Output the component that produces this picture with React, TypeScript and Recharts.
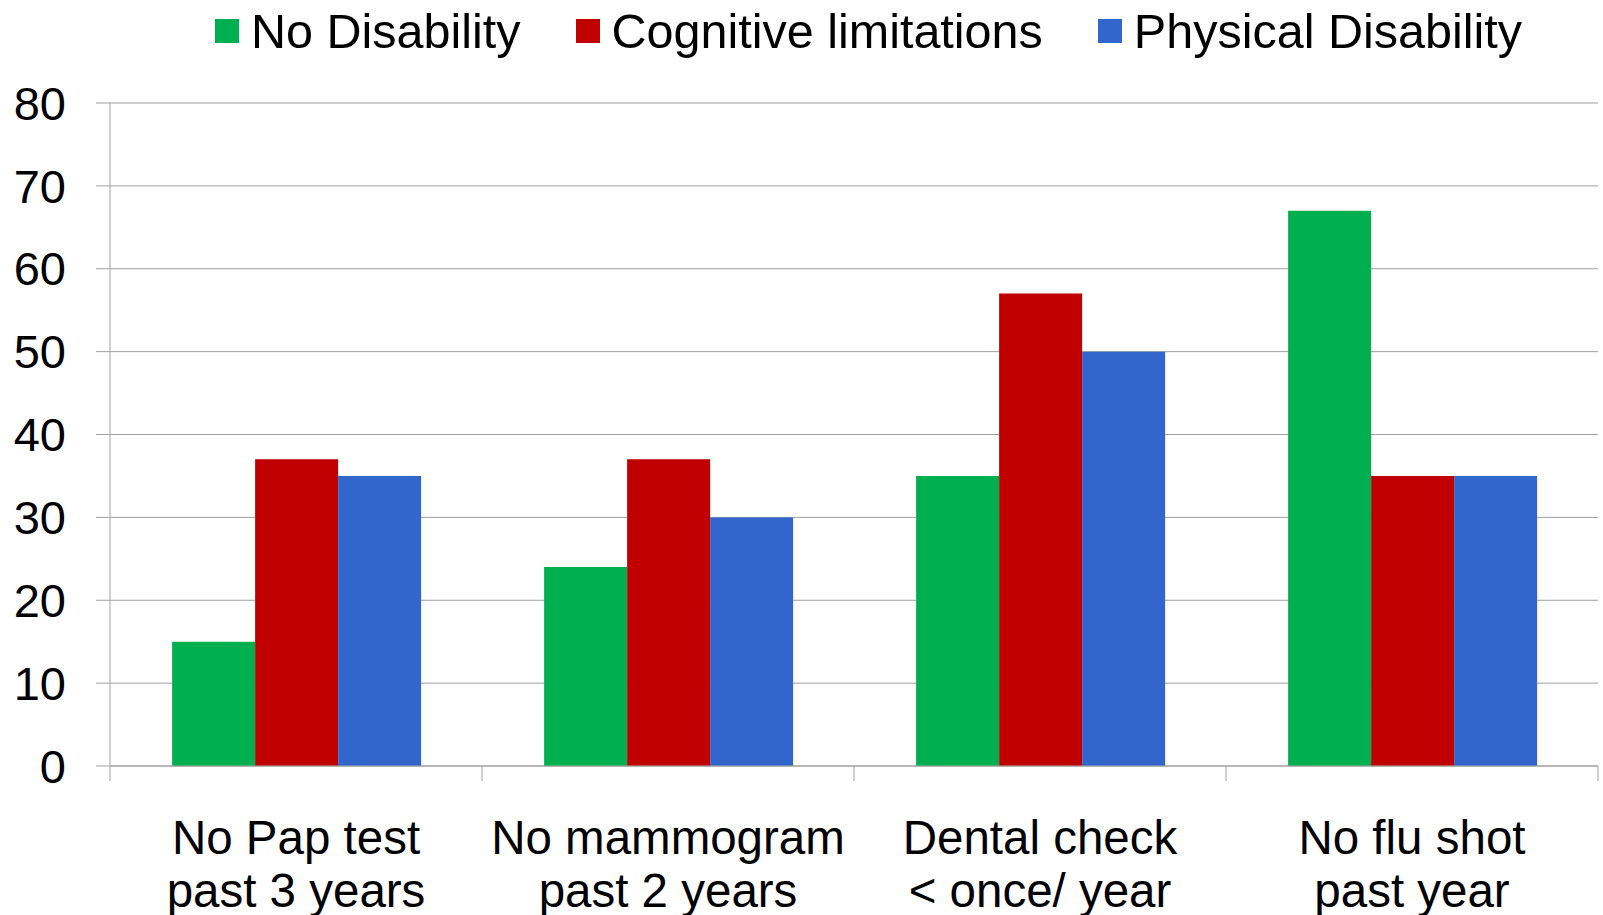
import React from 'react';
import { BarChart, Bar, XAxis, YAxis, CartesianGrid, Legend } from 'recharts';

const categories = [
  'No Pap test\npast 3 years',
  'No mammogram\npast 2 years',
  'Dental check\n< once/ year',
  'No flu shot\npast year',
];
const noDisability = [15, 24, 35, 67];
const cognitiveLimitations = [37, 37, 57, 35];
const physicalDisability = [35, 30, 50, 35];
const yTicks = [0, 10, 20, 30, 40, 50, 60, 70, 80];

const seriesNames = ['No Disability', 'Cognitive limitations', 'Physical Disability'];
const seriesColors = ['#00B050', '#C00000', '#3366CC'];

const data = categories.map((name, i) => ({
  name,
  noDisability: noDisability[i],
  cognitive: cognitiveLimitations[i],
  physical: physicalDisability[i],
}));

const gridColor = '#a0a0a0';

const CategoryTick = (props: any) => {
  const { x, y, payload, index } = props;
  const half = payload.offset ?? 186;
  const lines = String(payload.value).split('\n');
  return (
    <g>
      <line x1={x - half} x2={x - half} y1={y} y2={y + 15} stroke={gridColor} />
      {index === categories.length - 1 && (
        <line x1={x + half} x2={x + half} y1={y} y2={y + 15} stroke={gridColor} />
      )}
      <text x={x} y={y} textAnchor="middle" fontSize={47.5} fill="#000">
        {lines.map((l, i) => (
          <tspan key={i} x={x} dy={i === 0 ? 88 : 53}>
            {l}
          </tspan>
        ))}
      </text>
    </g>
  );
};

// legend drawn from the series arrays so the order stays as in the reference
const LegendContent = () => (
  <div style={{ display: 'flex', alignItems: 'center', height: 62, fontSize: 48.5, color: '#000' }}>
    {seriesNames.map((name, i) => (
      <div key={name} style={{ display: 'flex', alignItems: 'center', marginRight: i < seriesNames.length - 1 ? 55 : 0 }}>
        <span style={{ display: 'inline-block', width: 24, height: 24, background: seriesColors[i], marginRight: 12 }} />
        <span>{name}</span>
      </div>
    ))}
  </div>
);

export default function App() {
  return (
    <div style={{ position: 'absolute', left: 0, top: 0, fontFamily: '"Liberation Sans", Arial, sans-serif', background: '#fff' }}>
      <BarChart
        width={1603}
        height={915}
        data={data}
        margin={{ top: 103, right: 5, bottom: 0, left: 0 }}
        barCategoryGap="16.7%"
        barGap={0}
      >
        <CartesianGrid vertical={false} stroke={gridColor} />
        <XAxis
          dataKey="name"
          height={149}
          interval={0}
          tickLine={false}
          tickSize={0}
          tickMargin={0}
          axisLine={{ stroke: gridColor }}
          tick={<CategoryTick />}
        />
        <YAxis
          width={110}
          domain={[0, 80]}
          ticks={yTicks}
          tickSize={14}
          tickMargin={30}
          tickLine={{ stroke: gridColor }}
          axisLine={{ stroke: gridColor }}
          tick={{ fontSize: 47, fill: '#000' }}
        />
        <Legend
          layout="horizontal"
          verticalAlign="middle"
          align="center"
          wrapperStyle={{ top: 0, left: 215, width: 1380 }}
          content={<LegendContent />}
        />
        <Bar dataKey="noDisability" name={seriesNames[0]} fill={seriesColors[0]} isAnimationActive={false} />
        <Bar dataKey="cognitive" name={seriesNames[1]} fill={seriesColors[1]} isAnimationActive={false} />
        <Bar dataKey="physical" name={seriesNames[2]} fill={seriesColors[2]} isAnimationActive={false} />
      </BarChart>
    </div>
  );
}
